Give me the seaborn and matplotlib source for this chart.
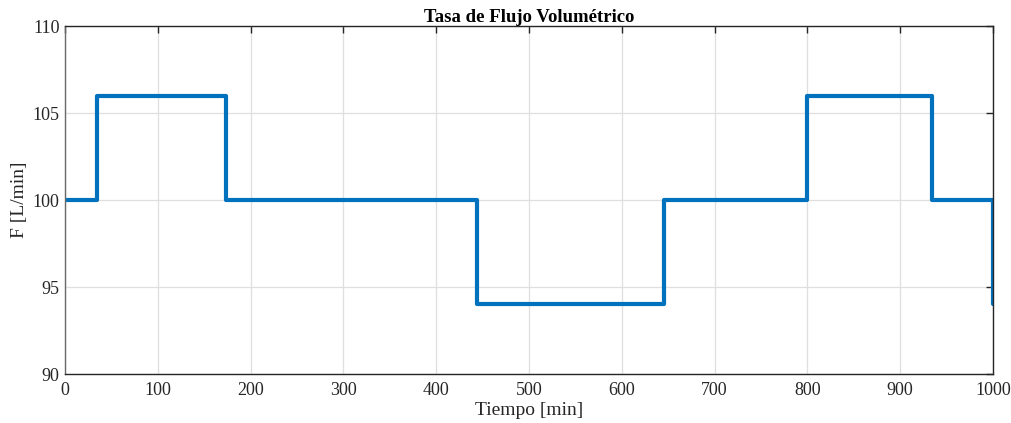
import matplotlib
matplotlib.use("Agg")
import matplotlib.pyplot as plt
import seaborn as sns
import pandas as pd

# Step changes in volumetric flow rate
tiempo = [0, 34, 174, 444, 645, 800, 934, 1000]
flujo = [100, 106, 100, 94, 100, 106, 100, 94]

x_ticks = list(range(0, 1001, 100))
y_ticks = [90, 95, 100, 105, 110]

sns.set_theme(style="white")
plt.rcParams["font.family"] = ["Liberation Serif", "DejaVu Serif"]
plt.rcParams["mathtext.fontset"] = "stix"

df = pd.DataFrame({"Tiempo": tiempo, "F": flujo})

fig = plt.figure(figsize=(10.11, 4.23), dpi=100)
ax = fig.add_axes([0.0643, 0.1158, 0.9179, 0.8227])

sns.lineplot(data=df, x="Tiempo", y="F", ax=ax, color="#0072BD",
             linewidth=3.0, drawstyle="steps-post", sort=False,
             estimator=None)

ax.set_xlim(0, 1000)
ax.set_ylim(90, 110)
ax.set_xticks(x_ticks)
ax.set_yticks(y_ticks)
ax.grid(True, color="#DFDFDF", linewidth=0.9)
ax.set_axisbelow(True)

for name, s in ax.spines.items():
    s.set_visible(True)
    s.set_color("#262626")
    s.set_linewidth(1.0)
ax.spines["left"].set_color("#6a6a6a")

ax.tick_params(direction="in", length=5, width=1.0, colors="#262626",
               top=True, right=True, labelsize=13)
ax.tick_params(axis="x", pad=6)
ax.tick_params(axis="y", pad=4)
for lbl in ax.get_xticklabels() + ax.get_yticklabels():
    lbl.set_color("#262626")

ax.set_xlabel("Tiempo [min]", fontsize=14, color="#262626", labelpad=2)
ax.set_ylabel("F [L/min]", fontsize=14, color="#262626", labelpad=3)
ax.set_title("Tasa de Flujo Volumétrico", fontsize=13.5, fontweight="bold",
             color="black", pad=3)

fig.savefig("out.png", dpi=100)
